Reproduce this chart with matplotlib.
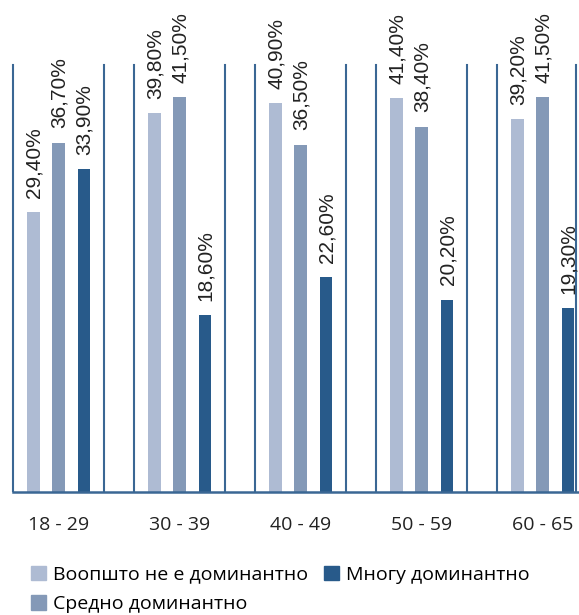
import numpy as np
import matplotlib.pyplot as plt
from matplotlib.patches import Patch

plt.rcParams["font.family"] = ["Open Sans", "DejaVu Sans"]

groups = ["18 - 29", "30 - 39", "40 - 49", "50 - 59", "60 - 65"]
series = ["Воопшто не е доминантно", "Средно доминантно", "Многу доминантно"]
vals_low = [29.4, 39.8, 40.9, 41.4, 39.2]
vals_mid = [36.7, 41.5, 36.5, 38.4, 41.5]
vals_high = [33.9, 18.6, 22.6, 20.2, 19.3]
colors = ["#aebbd3", "#8499b7", "#285a8a"]
line_col = "#3a6794"

fig = plt.figure(figsize=(5.79, 6.15), dpi=100)
ax = fig.add_axes([0, 0.2, 1, 0.8])

x = np.arange(len(groups))
offs = [-0.207, 0.0, 0.211]
w = 0.107
for vals, off, c in zip([vals_low, vals_mid, vals_high], offs, colors):
    bars = ax.bar(x + off, vals, width=w, color=c, zorder=2)
    for b, v in zip(bars, vals):
        ax.text(b.get_x() + b.get_width() / 2 + 0.006, v + 1.5, f"{v:.2f}%".replace(".", ","),
                rotation=90, ha="center", va="bottom", fontsize=15,
                family=["Liberation Sans", "DejaVu Sans"], color="#222222")

# group boxes
half = 0.376
for i in x:
    ax.plot([i - half, i - half], [0, 44.9], color=line_col, lw=1.5, zorder=1)
    right = i + half if i < len(groups) - 1 else 4.28
    ax.plot([right, right], [0, 44.9], color=line_col, lw=1.5, zorder=1)
ax.plot([-half, 4.4], [0, 0], color=line_col, lw=1.8, zorder=3, clip_on=False)

ax.set_xlim(-0.483, 4.302)
ax.set_ylim(0, 51.7)
for s in ax.spines.values():
    s.set_visible(False)
ax.set_yticks([])
ax.set_xticks(x)
ax.set_xticklabels(groups, fontsize=14, color="#222222")
ax.tick_params(axis="x", length=0, pad=17)

handles = [Patch(color=c) for c in colors]
fig.legend(handles, series, loc="upper left", bbox_to_anchor=(0.04, 0.093), ncol=2,
           frameon=False, fontsize=14, handlelength=0.75, handleheight=0.75,
           handletextpad=0.4, columnspacing=0.8, labelspacing=0.6, borderaxespad=0)

fig.savefig("out.png", dpi=100)
